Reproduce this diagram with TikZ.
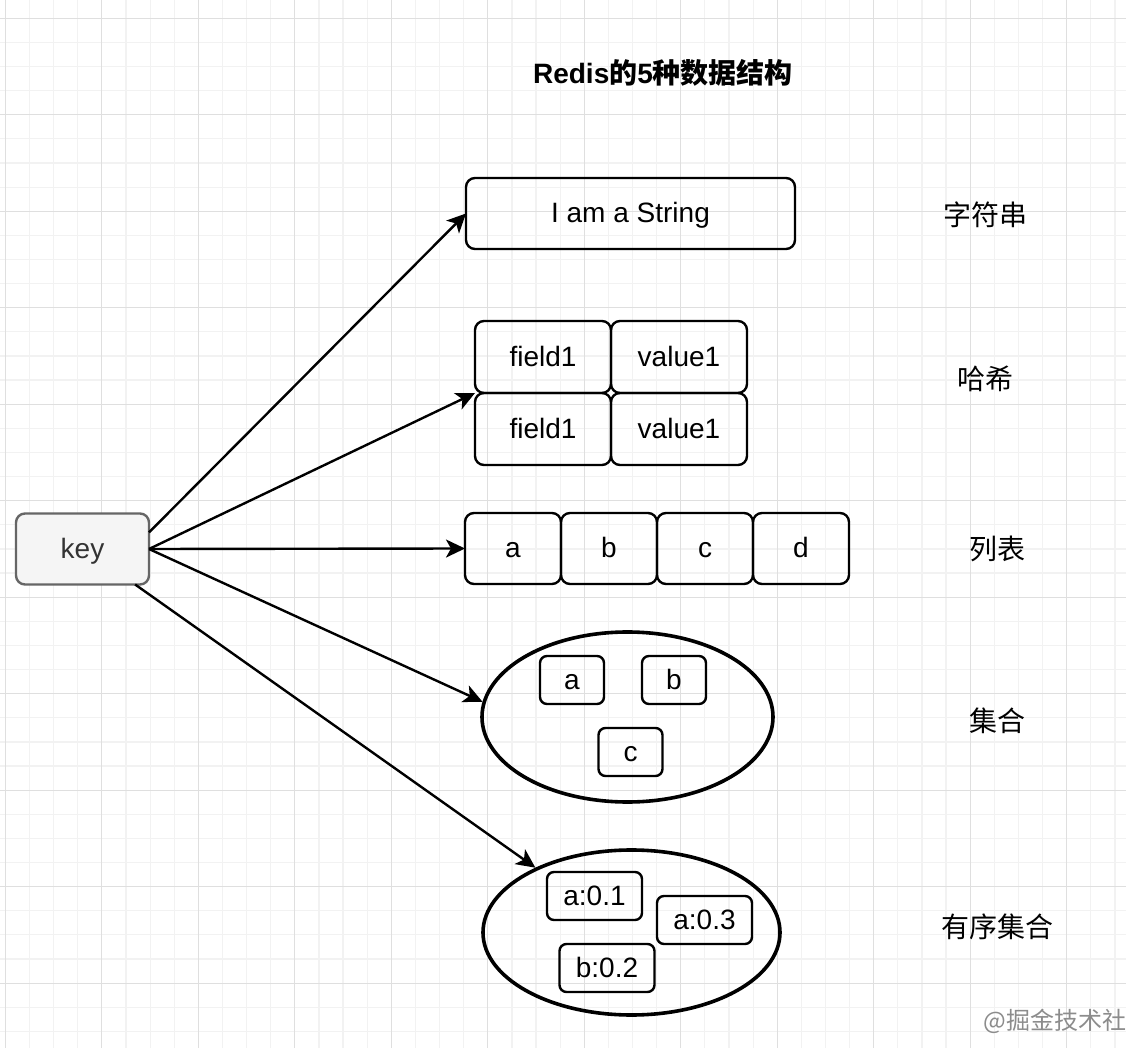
\documentclass[tikz,border=0pt]{standalone}
\usepackage{fontspec}
\setmainfont{Liberation Sans}
\newfontfamily\cjk{Noto Sans CJK SC}
\usepackage{xcolor}
\usepackage{tikz}
\usetikzlibrary{positioning, arrows.meta, shapes.geometric}

\definecolor{gridminor}{HTML}{F2F2F2}
\definecolor{gridmajor}{HTML}{DFDFDF}
\definecolor{keyfill}{HTML}{F5F5F5}
\definecolor{keyline}{HTML}{666666}
\definecolor{keytext}{HTML}{333333}

\begin{document}
\begin{tikzpicture}[x=0.5pt, y=-0.5pt,
  cell/.style={draw, line width=1.2pt, rounded corners=4.5pt, inner sep=0pt, outer sep=0pt,
    text height=11.5pt, text depth=2pt, font=\fontsize{14pt}{17pt}\selectfont},
  blob/.style={draw, ellipse, line width=1.8pt, inner sep=0pt},
  lab/.style={font=\cjk\fontsize{14pt}{17pt}\selectfont},
  arr/.style={line width=1.2pt, -{Stealth[length=9.5pt, width=9pt, inset=2.5pt]}}]
        \tikzset{>=latex}

        % Background and grid
        \useasboundingbox (0,0) rectangle (1126,1048);
        \fill[white] (0,0) rectangle (1126,1048);
        \foreach \i in {0,...,46} {
          \draw[gridminor, line width=0.6pt] ({5.4+24.12*\i},0) -- ({5.4+24.12*\i},1048);
        }
        \foreach \i in {0,...,42} {
          \draw[gridminor, line width=0.6pt] (0,{18.3+24.12*\i}) -- (1126,{18.3+24.12*\i});
        }
        \foreach \i in {0,...,11} {
          \draw[gridmajor, line width=0.6pt] ({5.4+96.48*\i},0) -- ({5.4+96.48*\i},1048);
        }
        \foreach \i in {0,...,10} {
          \draw[gridmajor, line width=0.6pt] (0,{18.3+96.48*\i}) -- (1126,{18.3+96.48*\i});
        }

        % Title
        \node[font=\bfseries\fontsize{14pt}{17pt}\selectfont] (title) at (663,73)
          {Redis{\cjk 的}5{\cjk 种数据结构}};

        % The key
        \node[cell, fill=keyfill, draw=keyline, text=keytext,
          minimum width=66.5pt, minimum height=35.5pt] (key) at (82.5,549) {key};

        % String
        \node[cell, minimum width=164.5pt, minimum height=35.5pt] (str) at (630.5,213.5) {I am a String};

        % Hash
        \tikzset{hcell/.style={cell, minimum width=68pt, minimum height=36pt}}
        \node[hcell] (h1) at (543,357) {field1};
        \node[hcell, right=0pt of h1] (v1) {value1};
        \node[hcell, below=0pt of h1] (h2) {field1};
        \node[hcell, right=0pt of h2] (v2) {value1};

        % List
        \tikzset{lcell/.style={cell, minimum width=48pt, minimum height=35.5pt}}
        \node[lcell] (la) at (513,548.5) {a};
        \node[lcell, right=0pt of la] (lb) {b};
        \node[lcell, right=0pt of lb] (lc) {c};
        \node[lcell, right=0pt of lc] (ld) {d};

        % Set
        \node[blob, minimum width=145.5pt, minimum height=85pt] (set) at (627.5,717) {};
        \tikzset{scell/.style={cell, rounded corners=3.5pt, minimum width=32pt, minimum height=24pt}}
        \node[scell] (sa) at (572,680) {a};
        \node[scell] (sb) at (674,680) {b};
        \node[scell] (sc) at (630.5,752) {c};

        % Sorted set
        \node[blob, minimum width=148.5pt, minimum height=82.5pt] (sset) at (631.5,932.5) {};
        \tikzset{zcell/.style={cell, rounded corners=3.5pt, minimum width=47.5pt, minimum height=24pt}}
        \node[zcell] (z1) at (594.5,896) {a:0.1};
        \node[zcell] (z3) at (704.5,920) {a:0.3};
        \node[zcell] (z2) at (607,968) {b:0.2};

        % Labels
        \node[lab] (lstr) at (985,215) {字符串};
        \node[lab] (lhash) at (985,379) {哈希};
        \node[lab] (llist) at (997,549) {列表};
        \node[lab] (lset) at (997,721) {集合};
        \node[lab] (lsset) at (997,927) {有序集合};

        % Arrows from the key
        \draw[arr] (key.14) -- (str.west);
        \draw[arr] (key.east) -- (h1.south west);
        \draw[arr] (key.east) -- (la.west);
        \draw[arr] (key.east) -- (set.174);
        \draw[arr] (key.-34) -- (sset.146);

        % Watermark
        \node[font=\cjk\fontsize{12pt}{14pt}\selectfont, text=black!45] (mark) at (1055,1021) {@掘金技术社};
    \end{tikzpicture}
\end{document}
